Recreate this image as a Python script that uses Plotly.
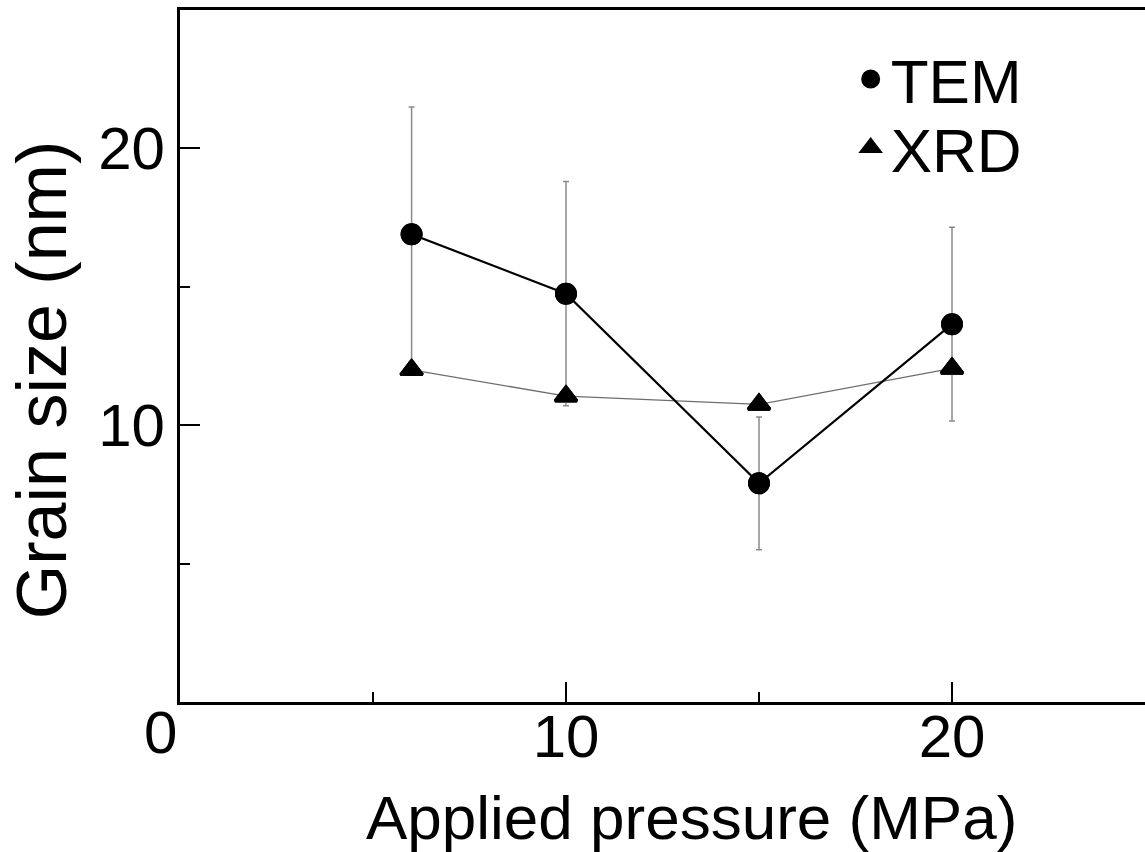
import plotly.graph_objects as go

pressure = [6, 10, 15, 20]
tem_size = [16.9, 14.75, 7.9, 13.65]
tem_err = [4.6, 4.05, 2.4, 3.5]
xrd_size = [12.0, 11.05, 10.75, 12.05]

x_tick_vals = [10, 20]
y_tick_vals = [10, 20]

FONT = "Liberation Sans, Arial, sans-serif"

fig = go.Figure()

circle_marker = dict(symbol="circle", size=19, color="black", line=dict(color="black", width=3))
tri_marker = dict(symbol="triangle-up", size=19, color="black", line=dict(color="black", width=3))

fig.add_trace(go.Scatter(
    x=pressure, y=xrd_size, mode="lines+markers", showlegend=False,
    line=dict(color="#6e6e6e", width=1.3), marker=tri_marker,
))
fig.add_trace(go.Scatter(
    x=pressure, y=tem_size, mode="lines+markers", showlegend=False,
    line=dict(color="black", width=2.2), marker=circle_marker,
    error_y=dict(type="data", array=tem_err, visible=True, color="#8a8a8a", thickness=1.5, width=3),
))
# legend entries (markers only)
fig.add_trace(go.Scatter(
    x=pressure, y=tem_size, mode="markers", name="TEM", legend="legend",
    marker=circle_marker,
))
fig.add_trace(go.Scatter(
    x=pressure, y=xrd_size, mode="markers", name="XRD", legend="legend2",
    marker=tri_marker,
))

fig.add_annotation(
    x=0, y=0, xref="x", yref="y", text="0", showarrow=False,
    xanchor="center", yanchor="top", xshift=-20, yshift=5,
    font=dict(family=FONT, size=60, color="black"),
)
fig.add_annotation(
    x=0.53, y=-0.1676, xref="paper", yref="paper", text="Applied pressure (MPa)",
    showarrow=False, xanchor="center", yanchor="middle",
    font=dict(family=FONT, size=62, color="black"),
)
fig.add_annotation(
    x=-0.143, y=0.465, xref="paper", yref="paper", text="Grain size (nm)",
    showarrow=False, xanchor="center", yanchor="middle", textangle=-90,
    font=dict(family=FONT, size=70, color="black"),
)

legend_common = dict(
    xanchor="left", yanchor="middle",
    font=dict(family=FONT, size=62, color="black"),
    bgcolor="rgba(0,0,0,0)", itemsizing="trace",
)

fig.update_layout(
    width=1145, height=852,
    margin=dict(l=180, r=0, t=10, b=150),
    paper_bgcolor="white", plot_bgcolor="white",
    font=dict(family=FONT, color="black"),
    showlegend=True,
    legend=dict(x=0.695, y=0.9, **legend_common),
    legend2=dict(x=0.695, y=0.801, **legend_common),
    xaxis=dict(
        range=[0, 25], tickvals=x_tick_vals, ticks="inside", ticklen=20, tickwidth=2,
        tickcolor="black", showline=True, linewidth=3, linecolor="black", mirror=True,
        showgrid=False, zeroline=False, ticklabelstandoff=-20,
        tickfont=dict(family=FONT, size=60, color="black"),
        minor=dict(tickvals=[5, 15], ticks="inside", ticklen=10, tickwidth=2, tickcolor="black", showgrid=False),
    ),
    yaxis=dict(
        range=[0, 25], tickvals=y_tick_vals, ticks="inside", ticklen=20, tickwidth=2,
        tickcolor="black", showline=True, linewidth=3, linecolor="black", mirror=False,
        showgrid=False, zeroline=False,
        tickfont=dict(family=FONT, size=60, color="black"),
        minor=dict(tickvals=[5, 15], ticks="inside", ticklen=10, tickwidth=2, tickcolor="black", showgrid=False),
    ),
)

fig.write_html("out.html")
